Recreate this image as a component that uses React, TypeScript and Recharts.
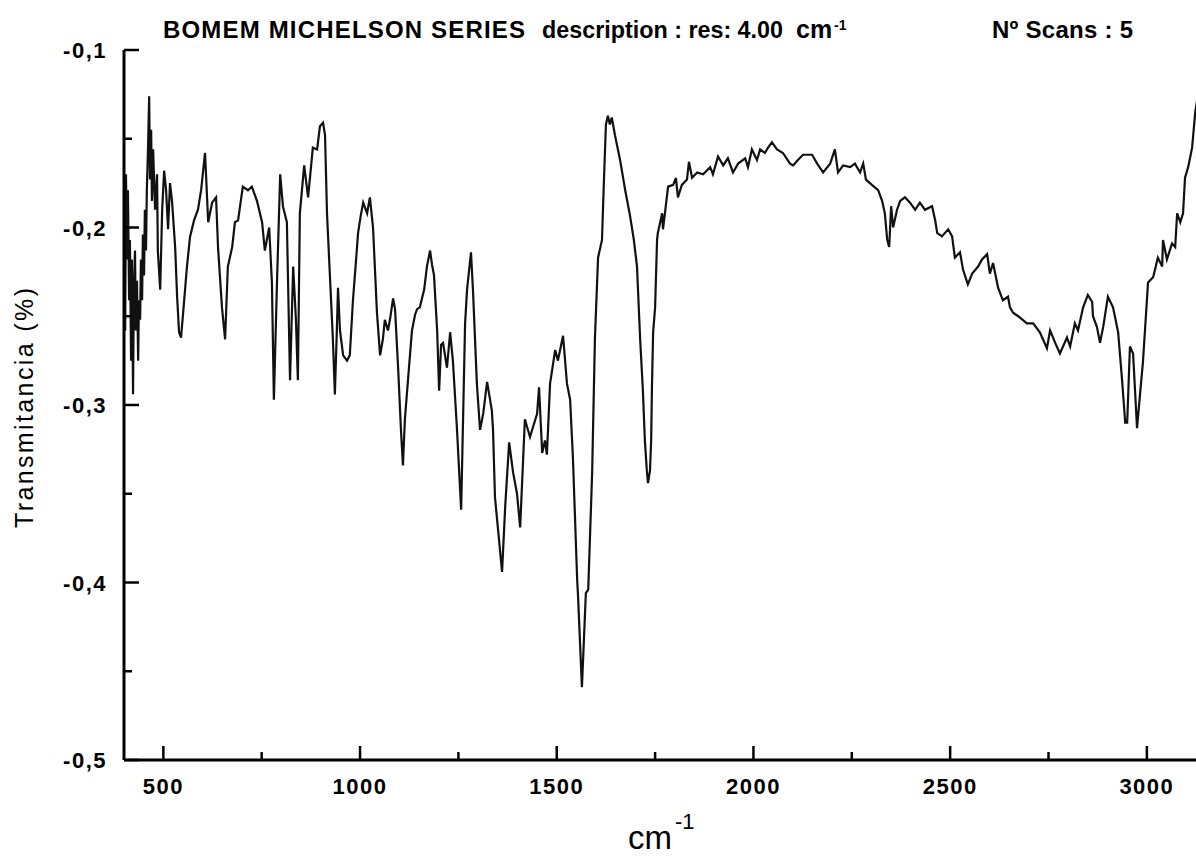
import React from "react";
import { LineChart, Line, XAxis, YAxis } from "recharts";

// [wavenumber cm-1, transmitancia]
const fingerprintLow: [number, number][] = [
  [403, -0.258], [405, -0.17], [408, -0.218], [410, -0.179], [413, -0.241], [415, -0.207],
  [418, -0.275], [420, -0.218], [423, -0.294], [425, -0.235], [428, -0.213], [430, -0.258],
  [433, -0.23], [436, -0.275], [438, -0.241], [441, -0.252], [443, -0.218], [446, -0.241],
  [448, -0.204], [451, -0.227], [453, -0.19], [456, -0.213], [458, -0.179], [461, -0.156],
  [464, -0.126], [466, -0.173], [469, -0.145], [471, -0.185], [474, -0.156], [479, -0.19],
  [484, -0.17], [486, -0.213], [492, -0.235], [497, -0.19], [502, -0.168], [507, -0.179],
  [512, -0.201], [517, -0.175], [522, -0.185], [530, -0.211], [535, -0.239], [540, -0.259],
  [545, -0.262], [553, -0.241], [560, -0.222], [568, -0.205], [578, -0.196], [588, -0.19],
  [596, -0.179], [606, -0.158], [614, -0.197], [624, -0.186], [634, -0.183], [639, -0.211],
  [649, -0.245], [657, -0.263], [664, -0.222], [675, -0.211], [682, -0.197], [690, -0.196],
  [702, -0.177], [715, -0.179], [725, -0.177], [738, -0.185], [751, -0.197], [758, -0.213],
  [769, -0.2], [776, -0.231], [781, -0.297], [789, -0.23], [797, -0.17], [804, -0.188],
  [814, -0.197], [822, -0.286], [830, -0.222], [837, -0.252], [842, -0.286], [847, -0.192],
  [858, -0.165], [868, -0.183], [880, -0.155], [891, -0.156], [898, -0.143], [906, -0.141],
  [911, -0.148], [916, -0.192], [924, -0.23], [931, -0.263], [936, -0.294], [941, -0.258],
  [944, -0.234], [949, -0.258], [957, -0.272], [967, -0.275], [974, -0.272], [982, -0.241],
  [990, -0.218], [995, -0.203],
];

const fingerprintHigh: [number, number][] = [
  [1002, -0.193], [1008, -0.186], [1018, -0.192], [1025, -0.183], [1033, -0.2], [1043, -0.248],
  [1051, -0.272], [1058, -0.263], [1063, -0.252], [1071, -0.258], [1076, -0.252], [1084, -0.24],
  [1089, -0.246], [1097, -0.28], [1104, -0.314], [1109, -0.334], [1114, -0.308], [1124, -0.28],
  [1132, -0.258], [1140, -0.249], [1145, -0.246], [1152, -0.245], [1163, -0.235], [1170, -0.222],
  [1178, -0.213], [1183, -0.221], [1188, -0.227], [1196, -0.258], [1201, -0.292], [1206, -0.266],
  [1211, -0.265], [1221, -0.279], [1229, -0.259], [1236, -0.275], [1246, -0.312], [1257, -0.359],
  [1267, -0.254], [1272, -0.235], [1282, -0.214], [1287, -0.235], [1297, -0.288], [1305, -0.314],
  [1313, -0.305], [1323, -0.287], [1335, -0.303], [1338, -0.314], [1343, -0.352], [1361, -0.394],
  [1369, -0.357], [1379, -0.321], [1389, -0.338], [1399, -0.35], [1407, -0.369], [1419, -0.308],
  [1432, -0.318], [1450, -0.305], [1455, -0.29], [1463, -0.327], [1470, -0.32], [1475, -0.328],
  [1483, -0.288], [1496, -0.269], [1503, -0.275], [1516, -0.261], [1526, -0.288], [1534, -0.297],
  [1541, -0.329], [1552, -0.399], [1554, -0.407], [1564, -0.459], [1574, -0.406], [1580, -0.404],
  [1590, -0.338], [1597, -0.263], [1605, -0.217], [1615, -0.207], [1620, -0.173], [1625, -0.142],
  [1630, -0.137], [1635, -0.142], [1640, -0.138], [1648, -0.148], [1661, -0.162], [1674, -0.179],
  [1686, -0.193], [1696, -0.207], [1704, -0.222], [1712, -0.263], [1719, -0.292], [1724, -0.32],
  [1729, -0.337], [1732, -0.344], [1737, -0.337], [1740, -0.32], [1742, -0.29], [1745, -0.259],
  [1750, -0.245], [1755, -0.207], [1757, -0.203], [1768, -0.192], [1770, -0.201], [1775, -0.192],
  [1783, -0.177], [1796, -0.176],
];

const upperRange: [number, number][] = [
  [1803, -0.172], [1808, -0.183], [1818, -0.176], [1831, -0.173], [1836, -0.163], [1844, -0.172],
  [1857, -0.169], [1872, -0.17], [1890, -0.166], [1897, -0.17], [1910, -0.16], [1923, -0.165],
  [1935, -0.161], [1948, -0.169], [1961, -0.164], [1979, -0.161], [1986, -0.166], [1996, -0.156],
  [2009, -0.162], [2017, -0.156], [2029, -0.158], [2037, -0.155], [2047, -0.152], [2060, -0.156],
  [2075, -0.158], [2093, -0.164], [2101, -0.165], [2113, -0.162], [2126, -0.159], [2149, -0.159],
  [2162, -0.164], [2177, -0.169], [2195, -0.164], [2207, -0.156], [2215, -0.169], [2228, -0.165],
  [2246, -0.166], [2258, -0.164], [2271, -0.169], [2279, -0.164], [2286, -0.173], [2301, -0.176],
  [2317, -0.179], [2327, -0.185], [2334, -0.192], [2340, -0.207], [2345, -0.211], [2350, -0.188],
  [2355, -0.2], [2365, -0.19], [2373, -0.185], [2385, -0.183], [2398, -0.186], [2411, -0.19],
  [2423, -0.186], [2436, -0.19], [2454, -0.188], [2462, -0.196], [2467, -0.203], [2479, -0.205],
  [2495, -0.201], [2505, -0.205], [2512, -0.217], [2525, -0.214], [2533, -0.224], [2545, -0.232],
  [2556, -0.226], [2571, -0.222], [2581, -0.218], [2594, -0.215], [2601, -0.226], [2609, -0.22],
  [2622, -0.234], [2634, -0.241], [2647, -0.239], [2652, -0.245], [2660, -0.248], [2673, -0.25],
  [2695, -0.254], [2711, -0.254], [2728, -0.259], [2746, -0.268], [2754, -0.258], [2767, -0.265],
  [2779, -0.271], [2797, -0.262], [2805, -0.267], [2817, -0.254], [2825, -0.258], [2838, -0.245],
  [2850, -0.238], [2861, -0.242], [2863, -0.25], [2873, -0.256], [2881, -0.265], [2889, -0.256],
  [2901, -0.239], [2914, -0.245], [2927, -0.259], [2937, -0.286], [2945, -0.31], [2950, -0.31],
  [2957, -0.267], [2965, -0.271], [2970, -0.292], [2975, -0.313], [2983, -0.293], [2990, -0.276],
  [3003, -0.231], [3016, -0.228], [3028, -0.217], [3039, -0.222], [3041, -0.207], [3051, -0.218],
  [3064, -0.209], [3072, -0.211], [3077, -0.192], [3085, -0.197], [3092, -0.192], [3097, -0.172],
  [3105, -0.166], [3115, -0.155], [3123, -0.135], [3128, -0.128],
];

const xTicks = [500, 750, 1000, 1250, 1500, 1750, 2000, 2250, 2500, 2750, 3000];
const yTicks = [-0.5, -0.45, -0.4, -0.35, -0.3, -0.25, -0.2, -0.15, -0.1];

const data = [...fingerprintLow, ...fingerprintHigh, ...upperRange].map(([w, t]) => ({ w, t }));

const font = "'Liberation Sans', Arial, Helvetica, sans-serif";

const isMajor = (v: number, step: number) => Math.abs(v / step - Math.round(v / step)) < 1e-6;

const BottomTick = (props: any) => {
  const { x, y, payload } = props;
  const major = isMajor(payload.value, 500);
  return (
    <g>
      <line x1={x} x2={x} y1={y} y2={y - (major ? 14 : 8)} stroke="#000" strokeWidth={2.5} />
      {major && (
        <text x={x} y={y + 34} textAnchor="middle" fontFamily={font} fontWeight="bold" fontSize={22} letterSpacing={1.5} fill="#000">
          {payload.value}
        </text>
      )}
    </g>
  );
};

const TopTick = (props: any) => {
  const { x, y, payload } = props;
  const major = isMajor(payload.value, 500);
  return <line x1={x} x2={x} y1={y} y2={y + (major ? 15 : 8)} stroke="#000" strokeWidth={2.5} />;
};

const LeftTick = (props: any) => {
  const { x, y, payload } = props;
  const major = isMajor(payload.value, 0.1);
  return (
    <g>
      <line x1={x} x2={x + (major ? 15 : 8)} y1={y} y2={y} stroke="#000" strokeWidth={2.5} />
      {major && (
        <text x={x - 17} y={y + 8} textAnchor="end" fontFamily={font} fontWeight="bold" fontSize={22} letterSpacing={1.5} fill="#000">
          {payload.value.toFixed(1).replace(".", ",")}
        </text>
      )}
    </g>
  );
};

const RightTick = (props: any) => {
  const { x, y, payload } = props;
  const major = isMajor(payload.value, 0.1);
  return <line x1={x} x2={x - (major ? 15 : 8)} y1={y} y2={y} stroke="#000" strokeWidth={2.5} />;
};

const axisLine = { stroke: "#000", strokeWidth: 3 };

export default function App() {
  return (
    <div style={{ position: "absolute", left: 0, top: 0, width: 1196, height: 857, overflow: "hidden", background: "#fff" }}>
      <LineChart width={1200} height={857} data={data} margin={{ top: 50, right: 2, bottom: 0, left: 0 }}>
        <XAxis
          dataKey="w"
          type="number"
          domain={[400, 3130]}
          allowDataOverflow
          ticks={xTicks}
          interval={0}
          height={97}
          tickSize={0}
          tickMargin={0}
          tickLine={false}
          axisLine={axisLine}
          tick={<BottomTick />}
        />
        <XAxis
          xAxisId="top"
          orientation="top"
          dataKey="w"
          type="number"
          domain={[400, 3130]}
          allowDataOverflow
          ticks={xTicks}
          interval={0}
          height={0}
          tickSize={0}
          tickMargin={0}
          tickLine={false}
          axisLine={axisLine}
          tick={<TopTick />}
        />
        <YAxis
          type="number"
          domain={[-0.5, -0.1]}
          allowDataOverflow
          ticks={yTicks}
          interval={0}
          width={124}
          tickSize={0}
          tickMargin={0}
          tickLine={false}
          axisLine={axisLine}
          tick={<LeftTick />}
        />
        <YAxis
          yAxisId="right"
          orientation="right"
          type="number"
          domain={[-0.5, -0.1]}
          allowDataOverflow
          ticks={yTicks}
          interval={0}
          width={0}
          tickSize={0}
          tickMargin={0}
          tickLine={false}
          axisLine={axisLine}
          tick={<RightTick />}
        />
        <Line type="linear" dataKey="t" stroke="#111" strokeWidth={2.2} dot={false} isAnimationActive={false} />
      </LineChart>
      <svg width={1196} height={857} style={{ position: "absolute", left: 0, top: 0, pointerEvents: "none" }}>
        <g fontFamily={font} fontWeight="bold" fill="#000">
          <text x={163} y={38} fontSize={24} textLength={362} lengthAdjust="spacing">
            BOMEM MICHELSON SERIES
          </text>
          <text x={542} y={38} fontSize={23} textLength={241} lengthAdjust="spacingAndGlyphs">
            description : res: 4.00
          </text>
          <text x={796} y={38} fontSize={25}>
            cm
          </text>
          <text x={834} y={30} fontSize={14}>
            -1
          </text>
          <text x={992} y={38} fontSize={24} textLength={141} lengthAdjust="spacing">
            Nº Scans : 5
          </text>
        </g>
        <text
          transform="translate(33,408) rotate(-90)"
          textAnchor="middle"
          fontFamily={font}
          fontSize={25}
          textLength={240}
          lengthAdjust="spacing"
          fill="#000"
        >
          Transmitancia (%)
        </text>
        <text x={628} y={849} fontFamily={font} fontSize={33} fill="#000">
          cm
        </text>
        <text x={675} y={829} fontFamily={font} fontSize={22} fill="#000">
          -1
        </text>
      </svg>
    </div>
  );
}
